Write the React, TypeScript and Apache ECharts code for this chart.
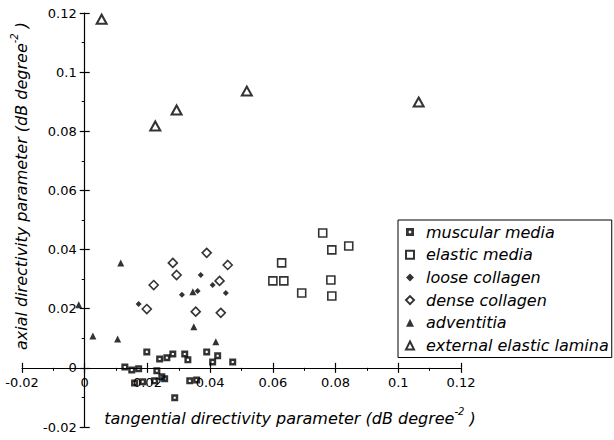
import React, { useEffect, useRef } from "react";
import * as echarts from "echarts";

const xTicks = [-0.02, 0, 0.02, 0.04, 0.06, 0.08, 0.1, 0.12];
const yTicks = [-0.02, 0, 0.02, 0.04, 0.06, 0.08, 0.1, 0.12];

const seriesNames = [
  "muscular media",
  "elastic media",
  "loose collagen",
  "dense collagen",
  "adventitia",
  "external elastic lamina",
];

const muscularMedia = [
  [0.0198, 0.0054], [0.0239, 0.003], [0.0262, 0.0034], [0.0281, 0.0047],
  [0.0319, 0.0047], [0.0329, 0.0027], [0.0389, 0.0054], [0.0424, 0.0041],
  [0.0408, 0.002], [0.0472, 0.002], [0.0128, 0.0003], [0.015, -0.0007],
  [0.0172, -0.0003], [0.023, -0.001], [0.0246, -0.003], [0.0223, -0.0044],
  [0.0185, -0.0047], [0.0159, -0.0051], [0.0255, -0.0037], [0.0335, -0.0044],
  [0.0357, -0.0041], [0.0287, -0.0101],
];

const elasticMedia = [
  [0.0759, 0.0456], [0.0788, 0.0399], [0.0842, 0.0412], [0.0628, 0.0355],
  [0.06, 0.0294], [0.0635, 0.0294], [0.0692, 0.0253], [0.0785, 0.0297],
  [0.0788, 0.0243],
];

const looseCollagen = [
  [0.037, 0.0314], [0.0408, 0.028], [0.031, 0.0247], [0.0172, 0.0216],
  [0.045, 0.0253], [0.036, 0.026],
];

const denseCollagen = [
  [0.0389, 0.0389], [0.0281, 0.0355], [0.0456, 0.0348], [0.0293, 0.0314],
  [0.022, 0.028], [0.043, 0.0294], [0.0198, 0.0199], [0.0354, 0.019],
  [0.0434, 0.0186],
];

const adventitia = [
  [0.0115, 0.0355], [-0.0019, 0.0213], [0.0345, 0.0257], [0.0026, 0.0108],
  [0.0105, 0.0098], [0.0348, 0.0139], [0.0418, 0.0088],
];

const externalElasticLamina = [
  [0.0054, 0.1179], [0.0225, 0.0818], [0.0293, 0.0872], [0.0517, 0.0936],
  [0.1065, 0.0899],
];

const FONT = "DejaVu Sans";

function fmt(v: number) {
  if (Math.abs(v) < 1e-9) return "0";
  return String(Math.round(v * 100) / 100);
}

// plot area (pixels)
const GRID_LEFT = 22;
const GRID_RIGHT = 153;
const GRID_TOP = 13;
const GRID_BOTTOM = 13;
const W = 614;
const H = 440;

export default function App() {
  const ref = useRef<HTMLDivElement>(null);

  useEffect(() => {
    if (!ref.current) return;
    const chart = echarts.init(ref.current, undefined, { renderer: "svg" });

    const xMin = xTicks[0];
    const xMax = xTicks[xTicks.length - 1];
    const yMin = yTicks[0];
    const yMax = yTicks[yTicks.length - 1];
    const plotW = W - GRID_LEFT - GRID_RIGHT;
    const plotH = H - GRID_TOP - GRID_BOTTOM;
    // shift the axes so that they cross at the origin
    const xAxisOffset = -plotH * ((0 - yMin) / (yMax - yMin));
    const yAxisOffset = -plotW * ((0 - xMin) / (xMax - xMin));

    const lineStyle = { color: "#000", width: 1.2 };

    const xBase = {
      type: "value" as const,
      min: xMin,
      max: xMax,
      interval: 0.02,
      splitLine: { show: false },
      position: "bottom",
      offset: xAxisOffset,
    };
    const yBase = {
      type: "value" as const,
      min: yMin,
      max: yMax,
      interval: 0.02,
      splitLine: { show: false },
      position: "left",
      offset: yAxisOffset,
    };
    const labelStyle = {
      color: "#000",
      fontFamily: FONT,
      fontSize: 13,
      formatter: (v: number) => fmt(v),
    };

    const xPrimary = {
      ...xBase,
      axisLine: { show: true, onZero: false, lineStyle },
      axisTick: { show: true, inside: false, length: 5, lineStyle },
      minorTick: { show: true, splitNumber: 2, length: 3, lineStyle: { color: "#000", width: 1 } },
      axisLabel: { ...labelStyle, margin: 8 },
    };
    const xSecondary = {
      ...xBase,
      axisLine: { show: false, onZero: false },
      axisTick: { show: true, inside: true, length: 5, lineStyle },
      axisLabel: { show: false },
    };
    const yPrimary = {
      ...yBase,
      axisLine: { show: true, onZero: false, lineStyle },
      axisTick: { show: true, inside: false, length: 5, lineStyle },
      minorTick: { show: true, splitNumber: 2, length: 3, lineStyle: { color: "#000", width: 1 } },
      axisLabel: { ...labelStyle, margin: 8 },
    };
    const ySecondary = {
      ...yBase,
      axisLine: { show: false, onZero: false },
      axisTick: { show: true, inside: true, length: 5, lineStyle },
      axisLabel: { show: false },
    };

    const open = { color: "#ffffff", borderColor: "#000", borderWidth: 1.6 };
    const filled = { color: "#000", borderColor: "#000", borderWidth: 0 };

    const datasets = [muscularMedia, elasticMedia, looseCollagen, denseCollagen, adventitia, externalElasticLamina];
    const symbols = [
      "path://M0,0H10V10H0Z M3.5,3.5V6.5H6.5V3.5Z",
      "rect",
      "diamond",
      "diamond",
      "triangle",
      "triangle",
    ];
    const sizes: any[] = [7, 8, 6, 9, 7, [10, 9]];
    const styles = [filled, open, filled, open, filled, { ...open, borderWidth: 2 }];

    const nameRich = {
      n: { fontFamily: FONT, fontStyle: "italic", fontSize: 16, fill: "#000", color: "#000", lineHeight: 20, verticalAlign: "bottom" },
      s: { fontFamily: FONT, fontStyle: "italic", fontSize: 10, fill: "#000", color: "#000", lineHeight: 20, verticalAlign: "top" },
    };

    chart.setOption({
      animation: false,
      backgroundColor: "#fff",
      grid: {
        left: GRID_LEFT,
        right: GRID_RIGHT,
        top: GRID_TOP,
        bottom: GRID_BOTTOM,
        containLabel: false,
        outerBoundsMode: "none",
      },
      xAxis: [xPrimary, xSecondary],
      yAxis: [yPrimary, ySecondary],
      legend: {
        orient: "vertical",
        left: 398,
        top: 220,
        data: seriesNames,
        itemWidth: 8,
        itemHeight: 8,
        itemGap: 6.7,
        padding: [4, 3, 4, 7],
        borderColor: "#000",
        borderWidth: 1,
        backgroundColor: "#fff",
        textStyle: {
          fontFamily: FONT,
          fontStyle: "italic",
          fontSize: 16,
          color: "#000",
          lineHeight: 14,
          padding: [0, 0, 0, 7],
        },
      },
      graphic: [
        {
          type: "text",
          x: 290,
          y: 416,
          style: {
            text: "{n|tangential directivity parameter (dB degree}{s|-2}{n| )}",
            rich: nameRich,
            align: "center",
            verticalAlign: "middle",
          },
        },
        {
          type: "text",
          x: 19,
          y: 186,
          rotation: Math.PI / 2,
          style: {
            text: "{n|axial directivity parameter (dB degree}{s|-2}{n| )}",
            rich: nameRich,
            align: "center",
            verticalAlign: "middle",
          },
        },
      ],
      series: datasets.map((d, i) => ({
        name: seriesNames[i],
        type: "scatter",
        xAxisIndex: 0,
        yAxisIndex: 0,
        data: d,
        symbol: symbols[i],
        symbolSize: sizes[i],
        itemStyle: styles[i],
        emphasis: { disabled: true },
      })),
    });

    return () => chart.dispose();
  }, []);

  return (
    <div
      ref={ref}
      style={{ position: "absolute", left: 0, top: 0, width: W, height: H }}
    />
  );
}
